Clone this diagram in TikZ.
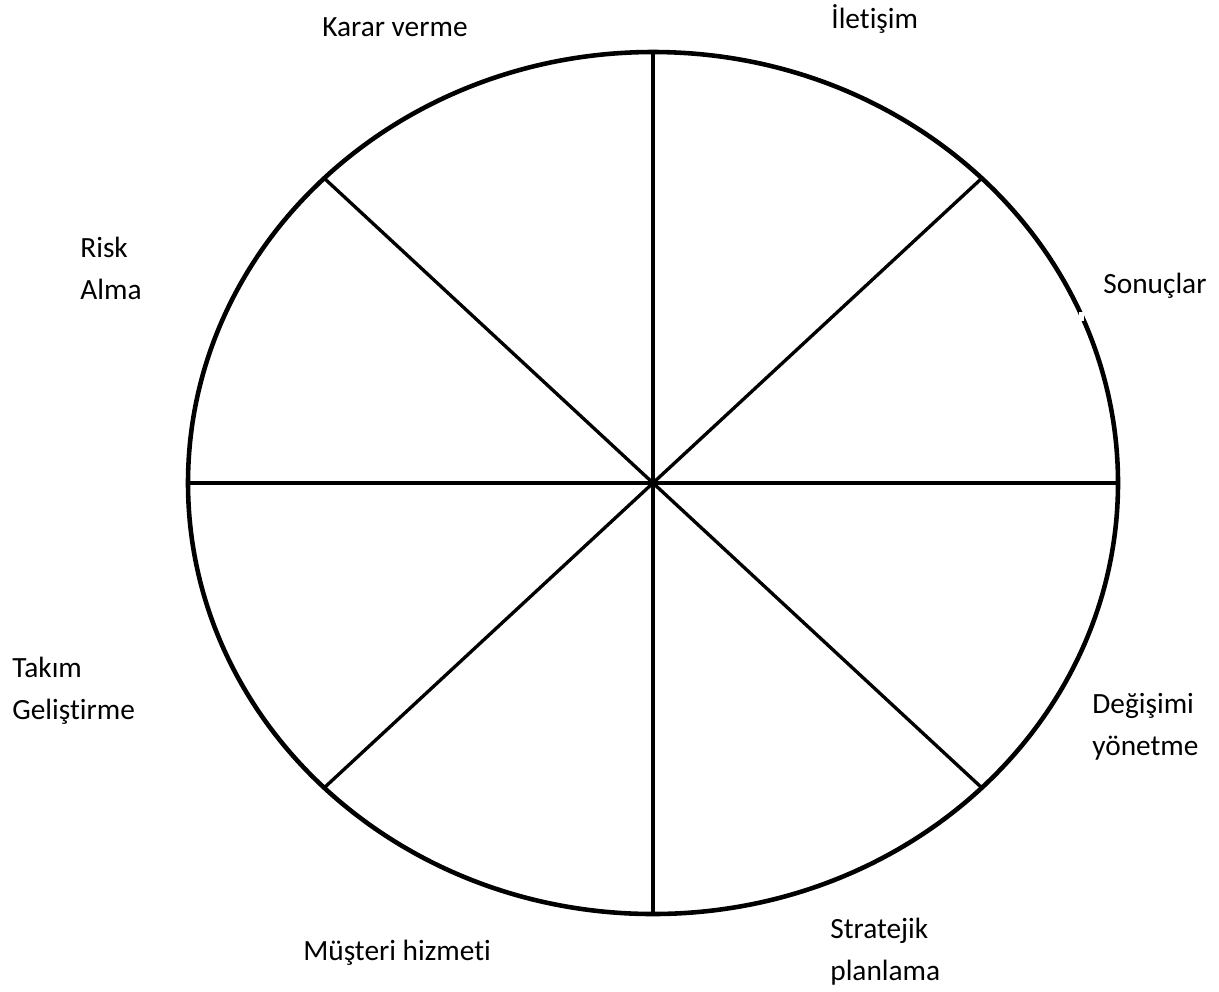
\documentclass[tikz,border=0pt]{standalone}
\usepackage{fontspec}
\setmainfont[Ligatures=NoCommon]{Carlito}
\begin{document}
\begin{tikzpicture}[x=0.02cm, y=-0.02cm, every node/.style={inner sep=0pt, anchor=west, align=left, font=\fontsize{16.7}{24}\selectfont}, rim/.style={line width=2.6pt}, spoke/.style={line width=1.9pt}]
        \useasboundingbox (0,0) rectangle (1219,991);
        \coordinate (c) at (653,483);
        \draw[rim] (c) ellipse [x radius=465, y radius=431];
        \foreach \a in {0,45,...,315}
            \draw[spoke] (c) -- ++(\a:465 and 431);
        \fill[white] (1079,312) rectangle (1084,321);
        \node (karar) at (322,27) {Karar verme};
        \node (iletisim) at (831,19) {İletişim};
        \node (sonuclar) at (1103,286) {Sonuçlar};
        \node (degisim) at (1092,727) {Değişimi\\yönetme};
        \node (strateji) at (830,952) {Stratejik\\planlama};
        \node (musteri) at (303,953) {Müşteri hizmeti};
        \node (takim) at (12,691) {Takım\\Geliştirme};
        \node (risk) at (80,268) {Risk\\Alma};
    \end{tikzpicture}
\end{document}
